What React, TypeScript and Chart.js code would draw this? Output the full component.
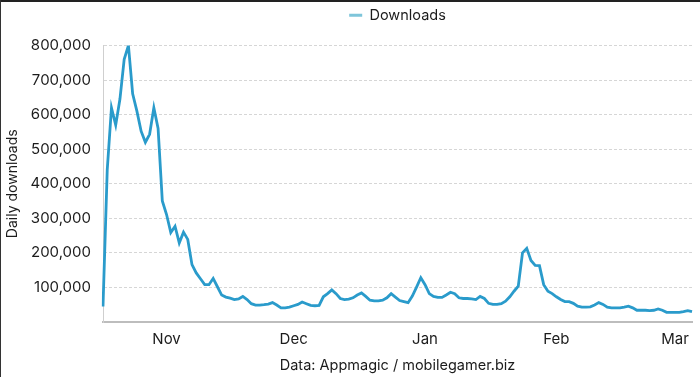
import React, { useEffect, useRef } from "react";
import { Chart, registerables } from "chart.js";

Chart.register(...registerables);

const START_DATE = "2022-10-17";
const MONTHS = ["Jan", "Feb", "Mar", "Apr", "May", "Jun", "Jul", "Aug", "Sep", "Oct", "Nov", "Dec"];

const downloads: number[] = [
  45000, 440000, 620000, 570000, 645000, 760000, 800000, 660000, 610000, 552000,
  520000, 543000, 620000, 560000, 350000, 311000, 259000, 277000, 229000, 260000,
  239000, 166000, 142000, 125000, 108000, 108000, 126000, 102000, 78000, 72000,
  69000, 65000, 67000, 74000, 65000, 53000, 49000, 49000, 50000, 52000,
  56000, 49000, 41000, 41000, 43000, 47000, 51000, 58000, 53000, 48000,
  47000, 48000, 73000, 82000, 93000, 82000, 68000, 65000, 66000, 70000,
  78000, 84000, 74000, 63000, 61000, 61000, 63000, 70000, 82000, 72000,
  62000, 59000, 56000, 75000, 101000, 128000, 108000, 82000, 74000, 71000,
  71000, 78000, 86000, 82000, 70000, 68000, 68000, 67000, 65000, 74000,
  68000, 54000, 51000, 51000, 53000, 60000, 73000, 89000, 104000, 200000,
  213000, 178000, 164000, 163000, 108000, 89000, 82000, 73000, 65000, 59000,
  59000, 54000, 46000, 43000, 43000, 44000, 49000, 56000, 51000, 43000,
  41000, 41000, 41000, 43000, 46000, 41000, 34000, 34000, 34000, 33000,
  34000, 38000, 34000, 28000, 28000, 28000, 28000, 30000, 33000, 30000,
];

const dayLabels: string[] = downloads.map((_, i) => {
  const d = new Date(START_DATE + "T00:00:00Z");
  d.setUTCDate(d.getUTCDate() + i);
  return d.toISOString().slice(0, 10);
});

const LINE_COLOR = "#2a9bcb";
const LEGEND_COLOR = "#7ec5da";
const TEXT_COLOR = "#1c1c1c";
const FONT = "Inter, 'Open Sans', sans-serif";

export default function App() {
  const canvasRef = useRef<HTMLCanvasElement | null>(null);

  useEffect(() => {
    const canvas = canvasRef.current;
    if (!canvas) return;
    const chart = new Chart(canvas, {
      type: "line",
      data: {
        labels: dayLabels,
        datasets: [
          {
            label: "Downloads",
            data: downloads,
            borderColor: LINE_COLOR,
            backgroundColor: LINE_COLOR,
            borderWidth: 2.8,
            pointRadius: 0,
            tension: 0,
          },
        ],
      },
      options: {
        animation: false,
        responsive: false,
        layout: { padding: { top: 0, right: 2, bottom: 3, left: 0 } },
        plugins: {
          tooltip: { enabled: false },
          subtitle: {
            display: true,
            text: "",
            weight: 10,
            font: { size: 10 },
            padding: { top: 0, bottom: 1 },
          } as any,
          legend: {
            display: true,
            position: "top",
            fullSize: false,
            labels: {
              color: TEXT_COLOR,
              font: { family: FONT, size: 14.5 },
              boxWidth: 13,
              boxHeight: 3,
              padding: 8,
              generateLabels: (c: any) =>
                (Chart.defaults.plugins.legend.labels as any)
                  .generateLabels(c)
                  .map((l: any) => ({ ...l, lineWidth: 0, fillStyle: LEGEND_COLOR })),
            },
          },
        },
        scales: {
          x: {
            type: "category",
            offset: false,
            grid: { display: false, drawTicks: false },
            border: { display: true, color: "#bdbdbd", width: 2 },
            ticks: {
              autoSkip: false,
              maxRotation: 0,
              minRotation: 0,
              padding: 8,
              color: TEXT_COLOR,
              font: { family: FONT, size: 15 },
              callback: function (this: any, _v: any, idx: number) {
                const lab = dayLabels[idx];
                if (!lab) return "";
                const parts = lab.split("-");
                if (parts[2] === "01") return MONTHS[parseInt(parts[1], 10) - 1];
                return "";
              },
            },
            title: {
              display: true,
              text: "Data: Appmagic / mobilegamer.biz",
              color: TEXT_COLOR,
              font: { family: FONT, size: 14.5 },
              padding: { top: 4, bottom: 0 },
            },
            afterFit: (scale: any) => {
              scale.height = 52;
            },
          },
          y: {
            min: 0,
            max: 800000,
            grid: {
              drawTicks: false,
              color: (ctx: any) => (ctx.tick && ctx.tick.value === 0 ? "rgba(0,0,0,0)" : "#d6d6d6"),
              lineWidth: 1,
            },
            border: { display: true, color: "#cfcfcf", width: 1, dash: [3, 2] },
            ticks: {
              stepSize: 50000,
              padding: 12,
              color: TEXT_COLOR,
              font: { family: FONT, size: 15 },
              callback: (v: any) => {
                const n = Number(v);
                if (n > 0 && n % 100000 === 0) return n.toLocaleString("en-US");
                return "";
              },
            },
            title: {
              display: true,
              text: "Daily downloads",
              color: TEXT_COLOR,
              font: { family: FONT, size: 14 },
              padding: { top: 4, bottom: 4 },
            },
            afterFit: (scale: any) => {
              scale.width = 103;
            },
          },
        },
      },
    });
    return () => chart.destroy();
  }, []);

  return (
    <div style={{ position: "fixed", left: 0, top: 0, width: 700, height: 377, background: "#fff" }}>
      <canvas ref={canvasRef} width={700} height={377} style={{ display: "block" }} />
      <div style={{ position: "absolute", left: 0, top: 0, width: 700, height: 2, background: "#222" }} />
      <div style={{ position: "absolute", left: 0, top: 0, width: 1, height: 377, background: "#333" }} />
    </div>
  );
}
